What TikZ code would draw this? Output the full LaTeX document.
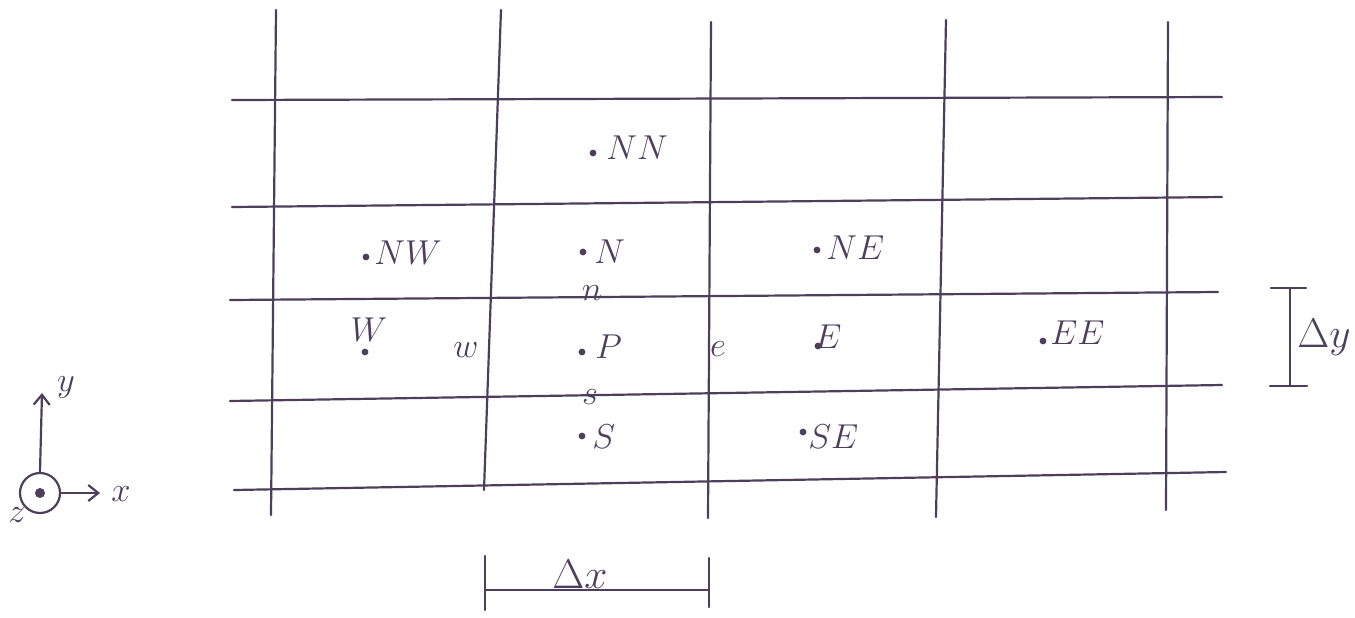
\documentclass[tikz,border=0pt]{standalone}
\usetikzlibrary{arrows.meta}
\definecolor{ink}{RGB}{78,62,92}
\begin{document}
\begin{tikzpicture}[x=0.5pt,y=-0.5pt,
  line/.style={draw=ink,line width=1.1pt,line cap=round},
  lbl/.style={text=ink,inner sep=0pt,font=\fontsize{17}{19}\selectfont},
  big/.style={text=ink,inner sep=0pt,font=\fontsize{20}{22}\selectfont},
  wl/.style={lbl,anchor=west},
  pt/.style={fill=ink,circle,inner sep=0pt,minimum size=3.4pt},
  axarrow/.style={line,-{Straight Barb[length=5pt,width=8pt]}}]
\useasboundingbox (0,0) rectangle (1355,617);
% vertical grid lines
\draw[line] (276,10) -- (271,515);
\draw[line] (501,10) -- (484,490);
\draw[line] (711,22) -- (708,518);
\draw[line] (946,20) -- (936,517);
\draw[line] (1168,22) -- (1166,510);
% horizontal grid lines
\draw[line] (232,100) -- (1222,97);
\draw[line] (232,207) -- (1222,197);
\draw[line] (230,300) -- (1218,292);
\draw[line] (230,401) -- (1222,385);
\draw[line] (234,490) -- (1226,472);
% grid points
\node[pt] (dNN) at (593,153) {};
\node[wl] (NN) at (606,148) {$NN$};
\node[pt] (dNW) at (366,257) {};
\node[wl] (NW) at (374,253) {$NW$};
\node[pt] (dN) at (583,252) {};
\node[wl] (N) at (594,252) {$N$};
\node[pt] (dNE) at (817,250) {};
\node[wl] (NE) at (826,248) {$NE$};
\node[lbl] (n) at (592,293) {$n$};
\node[lbl] (W) at (369,330) {$W$};
\node[pt] (dW) at (365,352) {};
\node[lbl] (w) at (466,350) {$w$};
\node[pt] (dP) at (582,352) {};
\node[wl] (P) at (595,347) {$P$};
\node[lbl] (e) at (718,349) {$e$};
\node[lbl] (E) at (828,337) {$E$};
\node[pt] (dE) at (818,346) {};
\node[pt] (dEE) at (1043,341) {};
\node[wl] (EE) at (1050,333) {$EE$};
\node[lbl] (s) at (590,397) {$s$};
\node[pt] (dS) at (582,436) {};
\node[wl] (S) at (592,437) {$S$};
\node[pt] (dSE) at (803,432) {};
\node[wl] (SE) at (808,437) {$SE$};
% Delta y bracket
\coordinate (dyT) at (1290,288);
\coordinate (dyB) at (1290,386);
\draw[line] (dyT) -- (dyB);
\draw[line] (1271,288) -- (1306,288);
\draw[line] (1270,386) -- (1307,386);
\node[big] (Dy) at (1324,337) {$\Delta y$};
% Delta x bracket
\coordinate (dxL) at (485,590);
\coordinate (dxR) at (709,590);
\draw[line] (dxL) -- (dxR);
\draw[line] (485,556) -- (485,610);
\draw[line] (709,558) -- (709,607);
\node[big] (Dx) at (580,574) {$\Delta x$};
% axes
\coordinate (O) at (40,493);
\node[draw=ink,line width=1.1pt,circle,minimum size=20pt,inner sep=0pt] (Oc) at (O) {};
\node[pt,minimum size=5pt] (Od) at (O) {};
\coordinate (Ytip) at (42,393);
\coordinate (Xtip) at (100,493);
\draw[axarrow] (Oc.north) -- (Ytip);
\draw[axarrow] (Oc.east) -- (Xtip);
\node[lbl] (ylab) at (66,387) {$y$};
\node[lbl] (xlab) at (121,494) {$x$};
\node[lbl] (zlab) at (17,515) {$z$};
\end{tikzpicture}
\end{document}
